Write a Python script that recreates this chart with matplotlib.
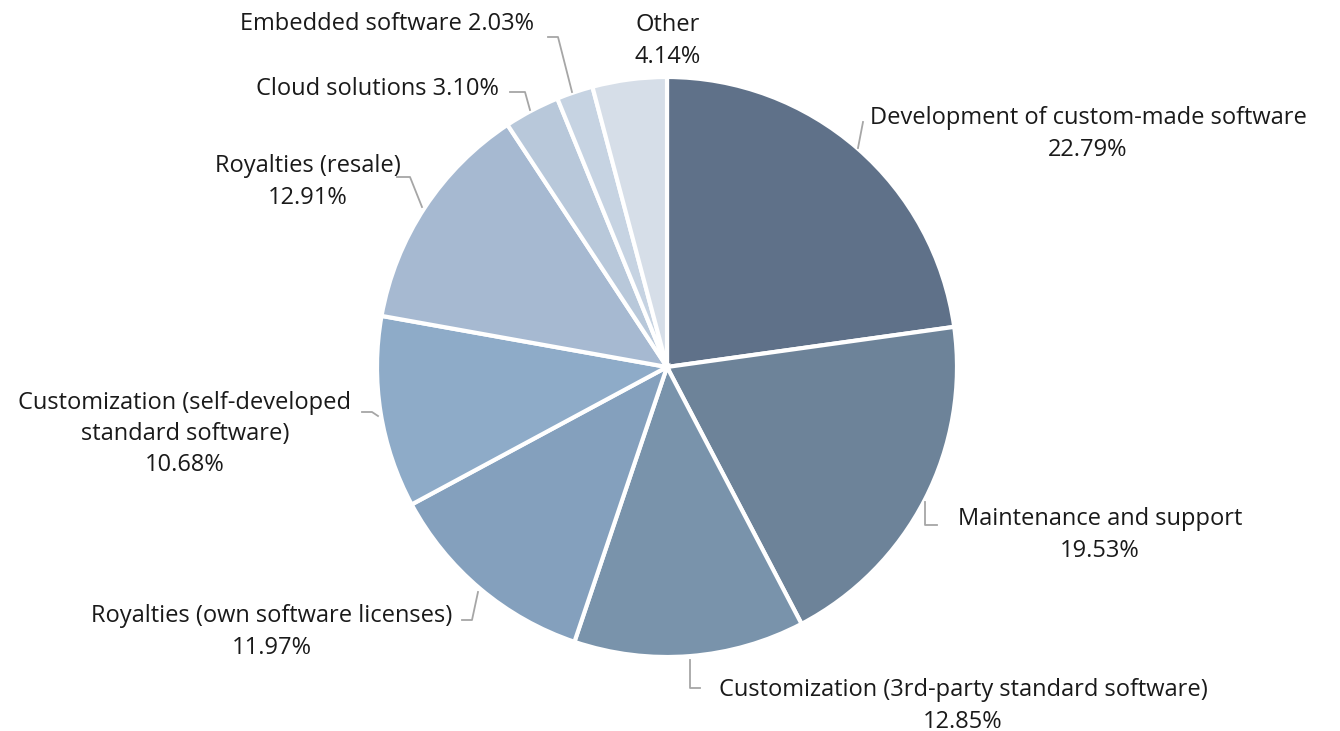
import matplotlib.pyplot as plt
import numpy as np

plt.rcParams['font.family'] = ['Open Sans', 'DejaVu Sans']

labels = ['Development of custom-made software', 'Maintenance and support',
          'Customization (3rd-party standard software)', 'Royalties (own software licenses)',
          'Customization (self-developed\nstandard software)', 'Royalties (resale)',
          'Cloud solutions', 'Embedded software', 'Other']
shares = [22.79, 19.53, 12.85, 11.97, 10.68, 12.91, 3.10, 2.03, 4.14]
colors = ['#5f7189', '#6d8399', '#7993ab', '#84a0bd', '#8eabc8',
          '#a6b9d1', '#b8c8da', '#c6d3e2', '#d6dee8']

W, H = 1340, 731
cx, cy, R = 667, 367, 290


def px(x, y):
    # pixel position -> data coords (pie radius = 1)
    return (x - cx) / R, (cy - y) / R


fig = plt.figure(figsize=(W / 100, H / 100), dpi=100)
ax = fig.add_axes([0, 0, 1, 1])
ax.pie(shares, colors=colors, startangle=90, counterclock=False, radius=1,
       wedgeprops=dict(edgecolor='white', linewidth=3))
ax.set_xlim((0 - cx) / R, (W - cx) / R)
ax.set_ylim((cy - H) / R, cy / R)
ax.set_aspect('auto')
ax.axis('off')

# label text: (text, x, y)
pct = ['%.2f%%' % s for s in shares]
texts = [
    (labels[0] + '\n' + pct[0], 1088, 134),
    (labels[1] + '\n' + pct[1], 1100, 535),
    (labels[2] + '\n' + pct[2], 963, 706),
    (labels[3] + '\n' + pct[3], 272, 632),
    (labels[4] + '\n' + pct[4], 185, 434),
    (labels[5] + '\n' + pct[5], 308, 182),
    (labels[6] + ' ' + pct[6], 377, 89),
    (labels[7] + ' ' + pct[7], 387, 24),
    (labels[8] + '\n' + pct[8], 668, 41),
]
for t, x, y in texts:
    ax.text(*px(x, y), t, ha='center', va='center', fontsize=17, color='#1a1a1a',
            linespacing=1.4)

# leader lines
leaders = [
    [(863, 122), (858, 148)],
    [(937, 525), (925, 525), (925, 502)],
    [(700, 688), (690, 688), (690, 660)],
    [(462, 620), (472, 620), (478, 592)],
    [(362, 412), (372, 412), (378, 416)],
    [(397, 177), (410, 177), (422, 207)],
    [(510, 92), (525, 92), (530, 110)],
    [(548, 37), (558, 37), (572, 92)],
]
for pts in leaders:
    xs, ys = zip(*[px(x, y) for x, y in pts])
    ax.plot(xs, ys, color='#a6a6a6', linewidth=1.3)

fig.savefig('out.png', dpi=100)
